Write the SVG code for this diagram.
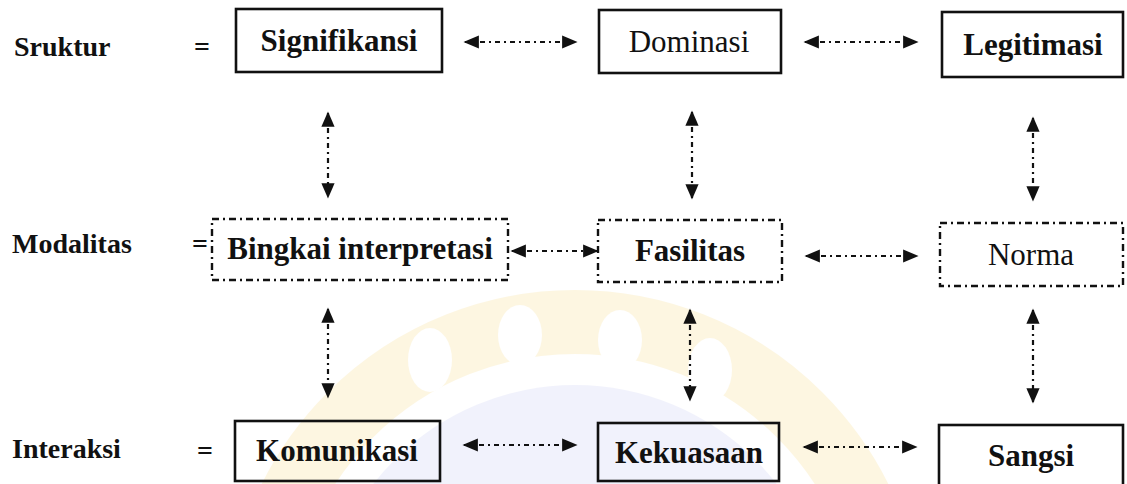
<svg xmlns="http://www.w3.org/2000/svg" width="1127" height="484" viewBox="0 0 1127 484">
<defs>
<style>
.lbl{font-family:"Liberation Serif","Times New Roman",serif;font-size:28px;fill:#111;font-weight:bold}
.txt{font-family:"Liberation Serif","Times New Roman",serif;font-size:31px;fill:#111}
.b{font-weight:bold}
.solid{fill:none;stroke:#111;stroke-width:2.6}
.dash{fill:none;stroke:#111;stroke-width:2.4;stroke-dasharray:7 4 2 4}
.conn{fill:none;stroke:#111;stroke-width:2.2;stroke-dasharray:5 4 2 4;marker-start:url(#ah);marker-end:url(#ah)}
</style>
<marker id="ah" viewBox="0 0 10 10" refX="9" refY="5" markerWidth="7" markerHeight="6" markerUnits="strokeWidth" orient="auto-start-reverse" preserveAspectRatio="none">
<path d="M0,0 L10,5 L0,10 Z" fill="#111"/>
</marker>
</defs>
<rect width="1127" height="484" fill="#fff"/>
<g id="watermark" opacity="0.25">
<circle cx="575" cy="640" r="318" fill="none" stroke="#f8de8c" stroke-width="64"/>
<circle cx="575" cy="640" r="255" fill="#c9cdf5"/>
<ellipse cx="430" cy="360" rx="22" ry="32" fill="#fff"/>
<ellipse cx="520" cy="335" rx="22" ry="30" fill="#fff"/>
<ellipse cx="620" cy="340" rx="22" ry="30" fill="#fff"/>
<ellipse cx="710" cy="370" rx="22" ry="32" fill="#fff"/>
</g>
<g id="row-labels">
<text class="lbl" x="14" y="56">Sruktur</text>
<text class="lbl" x="194" y="56">=</text>
<text class="lbl" x="12" y="253">Modalitas</text>
<text class="lbl" x="192" y="253">=</text>
<text class="lbl" x="12" y="458">Interaksi</text>
<text class="lbl" x="197" y="460">=</text>
</g>
<g id="connectors">
<line class="conn" x1="465" y1="42" x2="576" y2="42"/>
<line class="conn" x1="805" y1="42" x2="917" y2="42"/>
<line class="conn" x1="512" y1="251" x2="597" y2="251"/>
<line class="conn" x1="806" y1="256" x2="917" y2="256"/>
<line class="conn" x1="464" y1="445" x2="576" y2="445"/>
<line class="conn" x1="804" y1="447" x2="916" y2="447"/>
<line class="conn" x1="328" y1="113" x2="328" y2="197"/>
<line class="conn" x1="692" y1="112" x2="692" y2="198"/>
<line class="conn" x1="1033" y1="118" x2="1033" y2="200"/>
<line class="conn" x1="328" y1="309" x2="328" y2="397"/>
<line class="conn" x1="690" y1="310" x2="690" y2="400"/>
<line class="conn" x1="1033" y1="310" x2="1033" y2="402"/>
</g>
<g id="signifikansi">
<rect class="solid" x="236" y="9" width="206" height="63"/>
<text class="txt b" x="339" y="51" text-anchor="middle">Signifikansi</text>
</g>
<g id="dominasi">
<rect class="solid" x="599" y="10" width="182" height="63"/>
<text class="txt" x="689" y="52" text-anchor="middle">Dominasi</text>
</g>
<g id="legitimasi">
<rect class="solid" x="942" y="12" width="181" height="65"/>
<text class="txt b" x="1033" y="55" text-anchor="middle">Legitimasi</text>
</g>
<g id="bingkai">
<rect class="dash" x="212" y="219" width="296" height="61"/>
<text class="txt b" x="360" y="259" text-anchor="middle">Bingkai interpretasi</text>
</g>
<g id="fasilitas">
<rect class="dash" x="598" y="220" width="184" height="62"/>
<text class="txt b" x="690" y="261" text-anchor="middle">Fasilitas</text>
</g>
<g id="norma">
<rect class="dash" x="940" y="223" width="183" height="63"/>
<text class="txt" x="1031" y="265" text-anchor="middle">Norma</text>
</g>
<g id="komunikasi">
<rect class="solid" x="235" y="421" width="205" height="60"/>
<text class="txt b" x="337" y="461" text-anchor="middle">Komunikasi</text>
</g>
<g id="kekuasaan">
<rect class="solid" x="598" y="423" width="181" height="58"/>
<text class="txt b" x="689" y="463" text-anchor="middle">Kekuasaan</text>
</g>
<g id="sangsi">
<rect class="solid" x="939" y="425" width="184" height="62"/>
<text class="txt b" x="1031" y="466" text-anchor="middle">Sangsi</text>
</g>
</svg>
